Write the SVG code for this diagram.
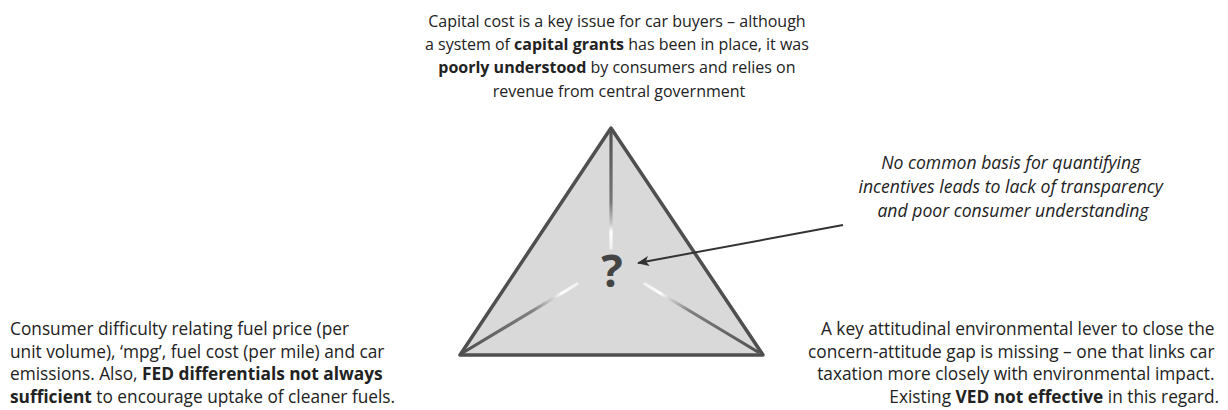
<svg xmlns="http://www.w3.org/2000/svg" width="1228" height="410" viewBox="0 0 1228 410">
<style>
  text { font-family: "Open Sans", "Noto Sans", sans-serif; font-size: 17.3px; fill: #222; }
  .top { font-size: 16px; }
  .b { font-weight: bold; }
  .i { font-style: italic; font-size: 17.6px; }
  .edge { stroke-width: 3.2; stroke-linecap: round; fill: none; }
  .conn { stroke: #333; stroke-width: 2; fill: none; }
</style>
<defs>
  <linearGradient id="gTop" gradientUnits="userSpaceOnUse" x1="611" y1="130" x2="611" y2="250">
    <stop offset="0" stop-color="#505050"/>
    <stop offset="0.6" stop-color="#777"/>
    <stop offset="0.78" stop-color="#c8c8c8"/>
    <stop offset="0.85" stop-color="#fff"/>
    <stop offset="1" stop-color="#fff" stop-opacity="0.6"/>
  </linearGradient>
  <linearGradient id="gBL" gradientUnits="userSpaceOnUse" x1="463" y1="352" x2="578" y2="284">
    <stop offset="0" stop-color="#505050"/>
    <stop offset="0.6" stop-color="#808080"/>
    <stop offset="0.78" stop-color="#d0d0d0"/>
    <stop offset="0.86" stop-color="#fff"/>
    <stop offset="1" stop-color="#fff" stop-opacity="0.6"/>
  </linearGradient>
  <linearGradient id="gBR" gradientUnits="userSpaceOnUse" x1="759" y1="352" x2="644" y2="284">
    <stop offset="0" stop-color="#505050"/>
    <stop offset="0.6" stop-color="#808080"/>
    <stop offset="0.78" stop-color="#d0d0d0"/>
    <stop offset="0.86" stop-color="#fff"/>
    <stop offset="1" stop-color="#fff" stop-opacity="0.6"/>
  </linearGradient>
  <marker id="arr" viewBox="0 0 12 10" refX="11" refY="5" markerWidth="12" markerHeight="10" markerUnits="userSpaceOnUse" orient="auto">
    <path d="M0,0 L12,5 L0,10 L3,5 Z" fill="#333"/>
  </marker>
</defs>

<g id="triangle">
  <polygon points="611,128 460,355 763,355" fill="#d9d9d9" stroke="#4f4f4f" stroke-width="3.5" stroke-linejoin="round"/>
  <line class="edge" x1="611" y1="131" x2="611" y2="248" stroke="url(#gTop)"/>
  <line class="edge" x1="464" y1="352" x2="577" y2="284" stroke="url(#gBL)"/>
  <line class="edge" x1="758" y1="352" x2="645" y2="284" stroke="url(#gBR)"/>
  <text x="612" y="287" text-anchor="middle" class="b" style="font-size:45px; fill:#444;">?</text>
</g>

<g id="connectors">
  <line class="conn" x1="843" y1="225" x2="638" y2="263" marker-end="url(#arr)"/>
</g>

<g id="top-note">
  <text text-anchor="middle" class="top">
    <tspan x="619" y="27">Capital cost is a key issue for car buyers – although</tspan>
    <tspan x="619" y="50">a system of <tspan class="b">capital grants</tspan> has been in place, it was</tspan>
    <tspan x="619" y="73"><tspan class="b">poorly understood</tspan> by consumers and relies on</tspan>
    <tspan x="619" y="97">revenue from central government</tspan>
  </text>
</g>

<g id="right-note">
  <text text-anchor="middle" class="i">
    <tspan x="1013" y="169">No common basis for quantifying</tspan>
    <tspan x="1013" y="193">incentives leads to lack of transparency</tspan>
    <tspan x="1013" y="217">and poor consumer understanding</tspan>
  </text>
</g>

<g id="bottom-left-note">
  <text>
    <tspan x="10" y="335">Consumer difficulty relating fuel price (per</tspan>
    <tspan x="10" y="357.5">unit volume), ‘mpg’, fuel cost (per mile) and car</tspan>
    <tspan x="10" y="380">emissions. Also, <tspan class="b">FED differentials not always</tspan></tspan>
    <tspan x="10" y="402.5"><tspan class="b">sufficient</tspan> to encourage uptake of cleaner fuels.</tspan>
  </text>
</g>

<g id="bottom-right-note">
  <text text-anchor="end">
    <tspan x="1219" y="335">A key attitudinal environmental lever to close the</tspan>
    <tspan x="1219" y="357.5">concern-attitude gap is missing – one that links car</tspan>
    <tspan x="1219" y="380">taxation more closely with environmental impact.</tspan>
    <tspan x="1219" y="402.5">Existing <tspan class="b">VED not effective</tspan> in this regard.</tspan>
  </text>
</g>
</svg>
